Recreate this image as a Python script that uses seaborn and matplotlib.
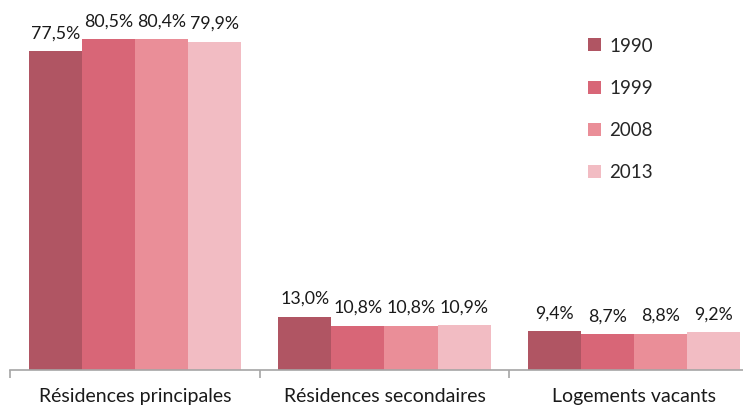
import matplotlib
matplotlib.use("Agg")
import matplotlib.pyplot as plt
import seaborn as sns
import pandas as pd
from matplotlib.patches import Patch

categories = ["Résidences principales", "Résidences secondaires", "Logements vacants"]
years = ["1990", "1999", "2008", "2013"]
values_1990 = [77.5, 13.0, 9.4]
values_1999 = [80.5, 10.8, 8.7]
values_2008 = [80.4, 10.8, 8.8]
values_2013 = [79.9, 10.9, 9.2]
colors = ["#B05563", "#D86677", "#EA8E98", "#F2BCC3"]

series = [values_1990, values_1999, values_2008, values_2013]
rows = []
for year, vals in zip(years, series):
    for cat, v in zip(categories, vals):
        rows.append({"categorie": cat, "annee": year, "part": v})
df = pd.DataFrame(rows)

sns.set_theme(style="white")
plt.rcParams["font.family"] = ["Lato", "DejaVu Sans"]

fig = plt.figure(figsize=(7.43, 4.11), dpi=100)
ax = fig.add_axes([10 / 743, 41 / 411, 749 / 743, 370 / 411])

sns.barplot(data=df, x="categorie", y="part", hue="annee", order=categories,
            hue_order=years, palette=colors, width=0.85, gap=0, saturation=1,
            linewidth=0, ax=ax, legend=False)

ax.set_ylim(0, 90)
ax.set_xlim(-0.5, 2.5)

# data labels above each bar
for container in ax.containers:
    labels = [f"{b.get_height():.1f}%".replace(".", ",") for b in container]
    ax.bar_label(container, labels=labels, padding=7, fontsize=12.8, color="#1a1a1a")

for side in ["left", "right", "top"]:
    ax.spines[side].set_visible(False)
ax.spines["bottom"].set_color("#A6A6A6")
ax.spines["bottom"].set_linewidth(1.2)

ax.set_yticks([])
ax.set_xlabel("")
ax.set_ylabel("")
ax.set_xticks(range(len(categories)))
ax.set_xticklabels(categories, fontsize=14, color="#1a1a1a")
ax.tick_params(axis="x", which="major", length=0, pad=13)
ax.set_xticks([-0.5, 0.5, 1.5, 2.5], minor=True)
ax.tick_params(axis="x", which="minor", length=6, width=1.2, color="#A6A6A6", bottom=True)

handles = [Patch(facecolor=c, edgecolor="none") for c in colors]
fig.legend(handles, years, loc="upper left", bbox_to_anchor=(580 / 743, 1 - 30 / 411),
           frameon=False, fontsize=13.5, handlelength=0.7, handleheight=0.7,
           handletextpad=0.45, labelspacing=1.35, borderaxespad=0)

fig.savefig("out.png", dpi=100)
